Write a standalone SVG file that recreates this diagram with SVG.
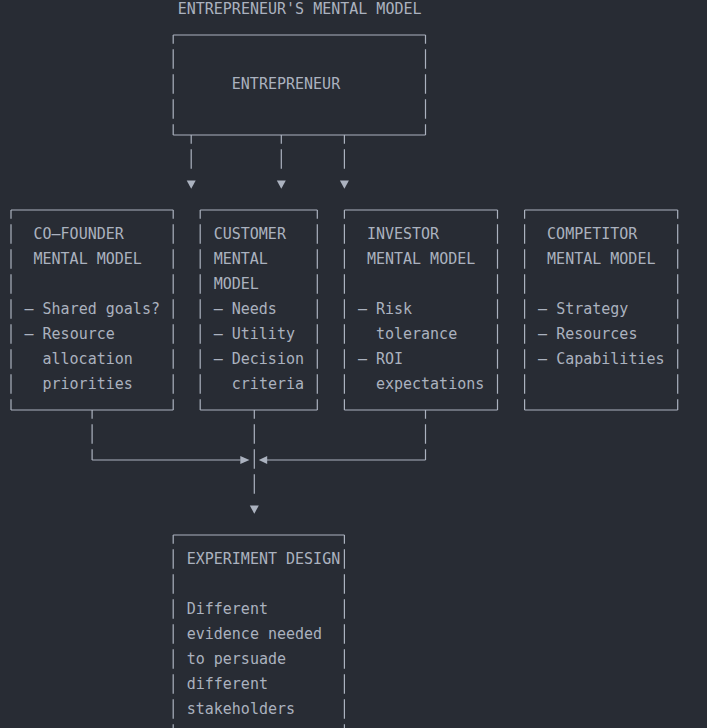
<svg xmlns="http://www.w3.org/2000/svg" width="707" height="728" viewBox="0 0 707 728">
  <defs>
    <style>
      .bg { fill: #282c34; }
      text { font-family: "DejaVu Sans Mono", "Liberation Mono", monospace; font-size: 15px; fill: #abb2bf; }
      .h { fill: none; stroke: #abb2bf; stroke-width: 1.2; }
      .v { fill: none; stroke: #abb2bf; stroke-width: 1.2; stroke-dasharray: 19.4 5.6; stroke-dashoffset: 10.7; }
      .tri { fill: #abb2bf; }
    </style>
  </defs>

  <rect class="bg" x="0" y="0" width="707" height="728"/>

  <!-- heading -->
  <g id="title">
    <text x="177.7" y="13.5">ENTREPRENEUR'S MENTAL MODEL</text>
  </g>

  <!-- top node -->
  <g id="entrepreneur">
    <path class="h" d="M173.2 35 H425.5 M173.2 135 H425.5"/>
    <path class="v" d="M173.2 35 V135 M425.5 35 V135"/>
    <text x="231.8" y="88.5">ENTREPRENEUR</text>
  </g>

  <!-- stakeholder models -->
  <g id="cofounder">
    <path class="h" d="M11 210 H173.2 M11 410 H173.2"/>
    <path class="v" d="M11 210 V410 M173.2 210 V410"/>
    <text x="33.5" y="238.5">CO–FOUNDER</text>
    <text x="33.5" y="263.5">MENTAL MODEL</text>
    <text x="24.5" y="313.5">– Shared goals?</text>
    <text x="24.5" y="338.5">– Resource</text>
    <text x="42.5" y="363.5">allocation</text>
    <text x="42.5" y="388.5">priorities</text>
  </g>

  <g id="customer">
    <path class="h" d="M200.2 210 H317.3 M200.2 410 H317.3"/>
    <path class="v" d="M200.2 210 V410 M317.3 210 V410"/>
    <text x="213.7" y="238.5">CUSTOMER</text>
    <text x="213.7" y="263.5">MENTAL</text>
    <text x="213.7" y="288.5">MODEL</text>
    <text x="213.7" y="313.5">– Needs</text>
    <text x="213.7" y="338.5">– Utility</text>
    <text x="213.7" y="363.5">– Decision</text>
    <text x="231.8" y="388.5">criteria</text>
  </g>

  <g id="investor">
    <path class="h" d="M344.4 210 H497.5 M344.4 410 H497.5"/>
    <path class="v" d="M344.4 210 V410 M497.5 210 V410"/>
    <text x="366.9" y="238.5">INVESTOR</text>
    <text x="366.9" y="263.5">MENTAL MODEL</text>
    <text x="357.9" y="313.5">– Risk</text>
    <text x="375.9" y="338.5">tolerance</text>
    <text x="357.9" y="363.5">– ROI</text>
    <text x="375.9" y="388.5">expectations</text>
  </g>

  <g id="competitor">
    <path class="h" d="M524.6 210 H677.7 M524.6 410 H677.7"/>
    <path class="v" d="M524.6 210 V410 M677.7 210 V410"/>
    <text x="547.1" y="238.5">COMPETITOR</text>
    <text x="547.1" y="263.5">MENTAL MODEL</text>
    <text x="538.1" y="313.5">– Strategy</text>
    <text x="538.1" y="338.5">– Resources</text>
    <text x="538.1" y="363.5">– Capabilities</text>
  </g>

  <!-- result node, runs past the bottom edge -->
  <g id="experiment">
    <path class="h" d="M173.2 535 H344.4"/>
    <path class="v" d="M173.2 535 V760 M344.4 535 V760"/>
    <text x="186.7" y="563.5">EXPERIMENT DESIGN</text>
    <text x="186.7" y="613.5">Different</text>
    <text x="186.7" y="638.5">evidence needed</text>
    <text x="186.7" y="663.5">to persuade</text>
    <text x="186.7" y="688.5">different</text>
    <text x="186.7" y="713.5">stakeholders</text>
  </g>

  <g id="connectors">
    <!-- entrepreneur fans out to the models -->
    <path class="v" d="M191.2 135 V168.7 M281.3 135 V168.7 M344.4 135 V168.7"/>
    <polygon class="tri" points="186.7,180.5 195.7,180.5 191.2,188.8"/>
    <polygon class="tri" points="276.8,180.5 285.8,180.5 281.3,188.8"/>
    <polygon class="tri" points="339.9,180.5 348.9,180.5 344.4,188.8"/>

    <!-- models merge into experiment design -->
    <path class="v" d="M92.1 410 V460 M425.5 410 V460 M254.3 410 V493.7"/>
    <path class="h" d="M92.1 460 H240.5 M267 460 H425.5"/>
    <polygon class="tri" points="240.3,456 249.5,460 240.3,464"/>
    <polygon class="tri" points="267.2,456 258.8,460 267.2,464"/>
    <polygon class="tri" points="249.8,505.5 258.8,505.5 254.3,513.8"/>
  </g>
</svg>
